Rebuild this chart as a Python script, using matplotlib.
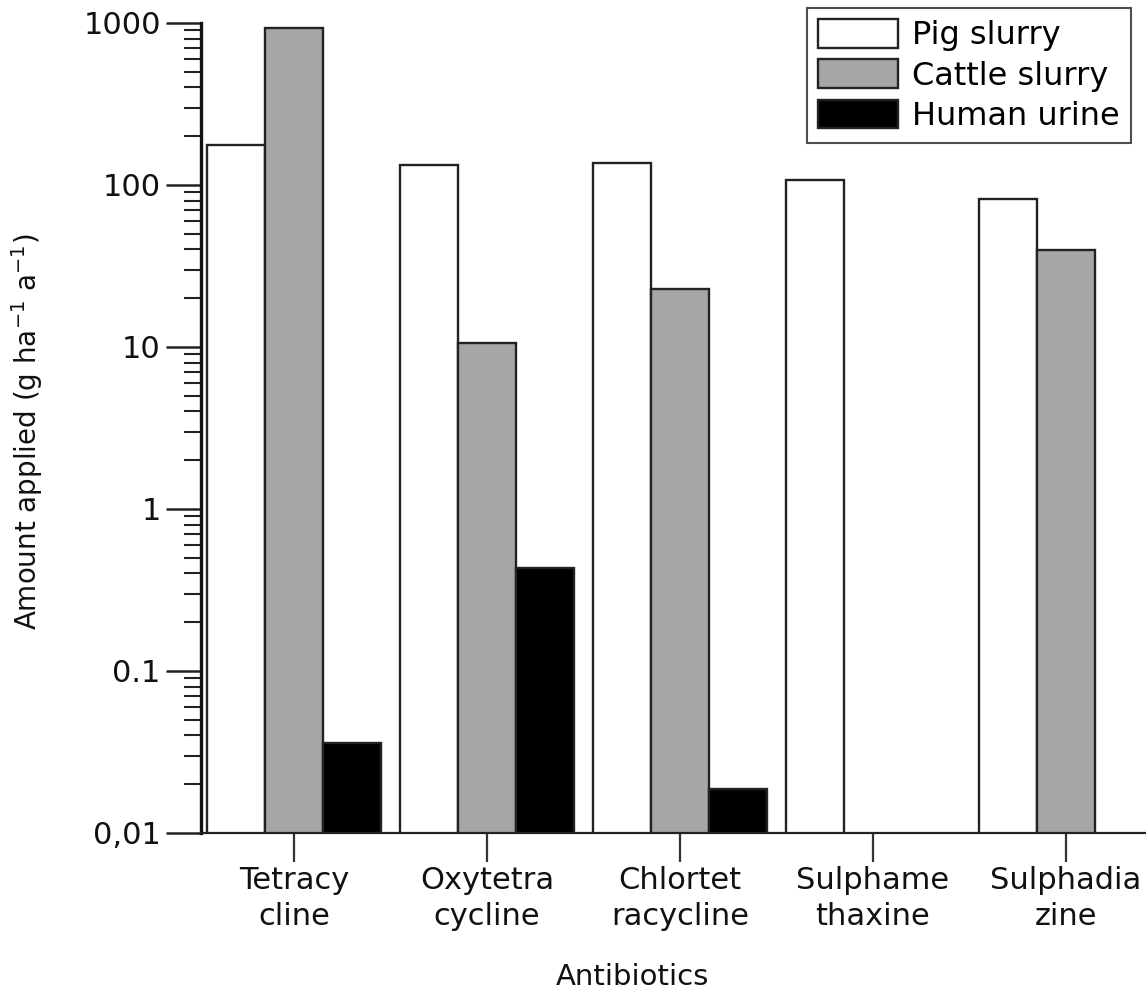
import numpy as np
import matplotlib
matplotlib.use("Agg")
import matplotlib.pyplot as plt

plt.rcParams['font.family'] = ['DejaVu Sans']
plt.rcParams['mathtext.default'] = 'regular'

# data (g ha-1 a-1)
antibiotics = ["Tetracy\ncline", "Oxytetra\ncycline", "Chlortet\nracycline",
               "Sulphame\nthaxine", "Sulphadia\nzine"]
pig_slurry = [176, 133, 137, 107, 82]
cattle_slurry = [931, 10.6, 22.8, np.nan, 39.7]
human_urine = [0.036, 0.43, 0.0187, np.nan, np.nan]

series = [("Pig slurry", pig_slurry, "white"),
          ("Cattle slurry", cattle_slurry, "#a6a6a6"),
          ("Human urine", human_urine, "black")]

ytick_vals = [0.01, 0.1, 1, 10, 100, 1000]
ytick_labels = ["0,01", "0.1", "1", "10", "100", "1000"]

fig = plt.figure(figsize=(11.46, 9.91), dpi=100)
ax = fig.add_axes([201 / 1146, 1 - 833 / 991, 1 - 201 / 1146, (833 - 23) / 991])
ax.set_yscale('log')

x = np.arange(len(antibiotics))
w = 0.30
for i, (name, vals, col) in enumerate(series):
    ax.bar(x + (i - 1) * w, vals, width=w, color=col, edgecolor='#222222',
           linewidth=1.7, label=name)

ax.set_ylim(0.01, 1000)
ax.set_xlim(-0.482, 4.415)

ax.spines['top'].set_visible(False)
ax.spines['right'].set_visible(False)
ax.spines['left'].set_linewidth(2.4)
ax.spines['bottom'].set_linewidth(1.6)
ax.spines['left'].set_color('#111111')
ax.spines['bottom'].set_color('#222222')

ax.set_yticks(ytick_vals)
ax.set_yticklabels(ytick_labels)
ax.set_xticks(x)
ax.set_xticklabels(antibiotics, linespacing=1.3)
ax.tick_params(axis='y', which='major', direction='out', length=25, width=1.8,
               labelsize=22, pad=4, color='#222222')
ax.tick_params(axis='y', which='minor', direction='out', length=12, width=1.5,
               color='#222222')
ax.tick_params(axis='x', which='major', direction='out', length=21, width=1.6,
               labelsize=22, pad=3, color='#333333')
for lab in ax.get_yticklabels() + ax.get_xticklabels():
    lab.set_color('#111111')

ax.set_xlabel("Antibiotics", fontsize=21, color='#111111')
ax.xaxis.set_label_coords(0.457, -0.16)
ax.set_ylabel(r"Amount applied (g ha$^{-1}$ a$^{-1}$)", fontsize=20, color='#111111')
ax.yaxis.set_label_coords(-0.165, 0.495)

leg = ax.legend(loc='upper left', bbox_to_anchor=(807 / 1146, 1 - 8 / 991),
                bbox_transform=fig.transFigure, fontsize=23, frameon=True,
                fancybox=False, borderaxespad=0, handlelength=2.5,
                handleheight=1.0, labelspacing=0.25, handletextpad=0.45,
                borderpad=0.35)
leg.get_frame().set_edgecolor('#222222')
leg.get_frame().set_linewidth(1.5)

fig.savefig("out.png", dpi=100)
